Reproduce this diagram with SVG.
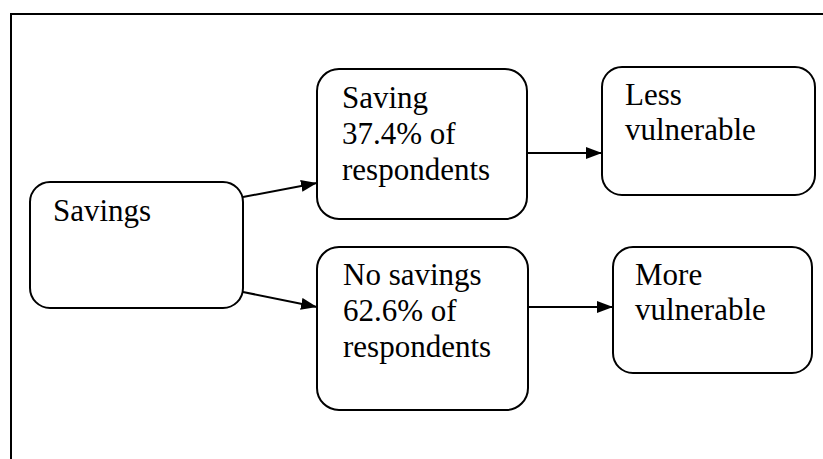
<svg xmlns="http://www.w3.org/2000/svg" width="823" height="459" viewBox="0 0 823 459">
  <defs>
    <marker id="arrow" viewBox="0 0 16 12" refX="16" refY="6" markerWidth="16" markerHeight="12" markerUnits="userSpaceOnUse" orient="auto">
      <path d="M0,0 L16,6 L0,12 Z" fill="#000"/>
    </marker>
  </defs>
  <style>
    .box { fill: #fff; stroke: #000; stroke-width: 2; }
    .edge { stroke: #000; stroke-width: 2; fill: none; marker-end: url(#arrow); }
    .frame { stroke: #000; stroke-width: 2; fill: none; }
  </style>
  <rect width="823" height="459" fill="#fff"/>
  <!-- outer frame: top and left edges only -->
  <path class="frame" d="M11,459 L11,14 L823,14"/>

  <g id="connectors">
    <line class="edge" x1="243" y1="197" x2="317" y2="183"/>
    <line class="edge" x1="243" y1="292" x2="317" y2="307"/>
    <line class="edge" x1="527" y1="153" x2="602" y2="153"/>
    <line class="edge" x1="528" y1="307" x2="613" y2="307"/>
  </g>

  <g font-family="Liberation Serif, Times New Roman, serif" font-size="31" fill="#000">
    <g id="savings">
      <rect class="box" x="30" y="182" width="213" height="126" rx="20"/>
      <text x="53" y="221">Savings</text>
    </g>

    <g id="saving">
      <rect class="box" x="317" y="69" width="210" height="150" rx="22"/>
      <text x="342" y="108">Saving</text>
      <text x="342" y="144">37.4% of</text>
      <text x="342" y="180">respondents</text>
    </g>

    <g id="no-savings">
      <rect class="box" x="317" y="247" width="211" height="163" rx="22"/>
      <text x="343" y="285">No savings</text>
      <text x="343" y="321">62.6% of</text>
      <text x="343" y="357">respondents</text>
    </g>

    <g id="less-vulnerable">
      <rect class="box" x="602" y="67" width="213" height="128" rx="20"/>
      <text x="625" y="105">Less</text>
      <text x="625" y="140">vulnerable</text>
    </g>

    <g id="more-vulnerable">
      <rect class="box" x="613" y="247" width="199" height="126" rx="20"/>
      <text x="635" y="285">More</text>
      <text x="635" y="320">vulnerable</text>
    </g>
  </g>
</svg>
